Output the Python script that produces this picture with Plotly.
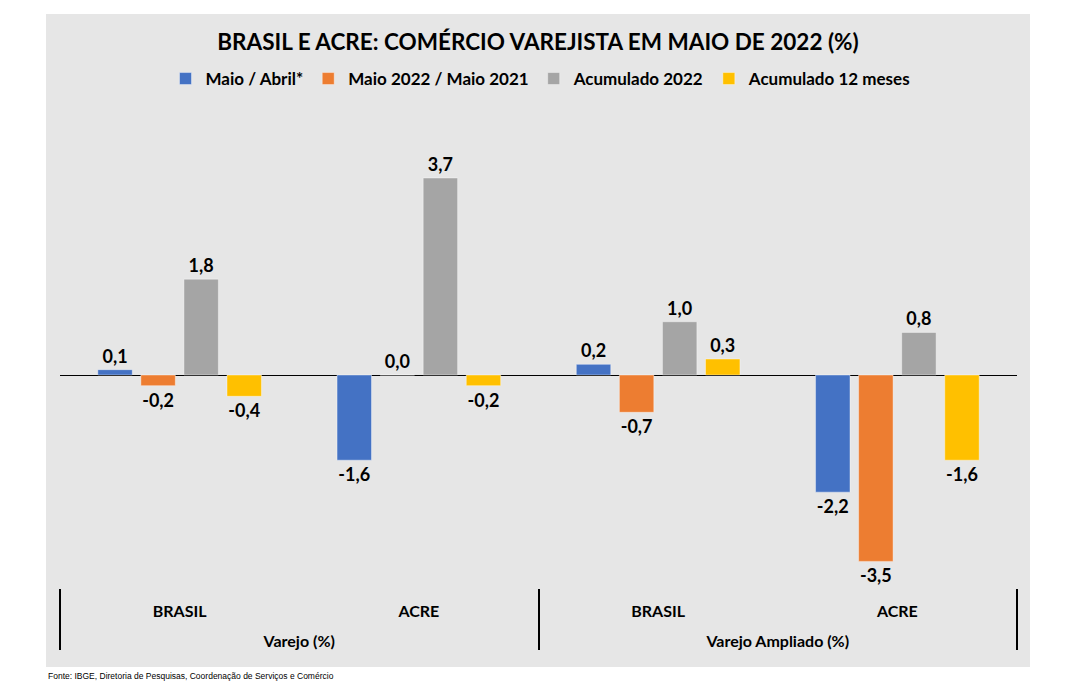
import plotly.graph_objects as go

# dados (%)
grupos = ["Varejo (%)", "Varejo (%)", "Varejo Ampliado (%)", "Varejo Ampliado (%)"]
locais = ["BRASIL", "ACRE", "BRASIL", "ACRE"]

series = ["Maio / Abril*", "Maio 2022 / Maio 2021", "Acumulado 2022", "Acumulado 12 meses"]
maio_abril = [0.1, -1.6, 0.2, -2.2]
maio_maio = [-0.2, 0.0, -0.7, -3.5]
acum_2022 = [1.8, 3.7, 1.0, 0.8]
acum_12m = [-0.4, -0.2, 0.3, -1.6]

cores = ["#4472C4", "#ED7D31", "#A5A5A5", "#FFC000"]
valores = [maio_abril, maio_maio, acum_2022, acum_12m]

fonte = "Lato"

# a página tem 8px de margem no body, então a figura é um pouco menor
W, H = 1072, 692
L, R, T, B = 52, 63, 154, 112
PW, PH = W - L - R, H - T - B

# linha vazia antes do grupo para descer o segundo nível do eixo
grupos_eixo = ["<br>" + g for g in grupos]

fig = go.Figure()

for nome, vals, cor in zip(series, valores, cores):
    fig.add_trace(go.Bar(
        x=[grupos_eixo, locais],
        y=vals,
        name=nome,
        marker=dict(color=cor, line=dict(color="rgba(255,255,255,0.5)", width=0.8)),
        text=[f"{v:.1f}".replace(".", ",") for v in vals],
        textposition="outside",
        textfont=dict(family=fonte, size=18, color="#000000", weight="bold"),
        cliponaxis=False,
    ))

fig.update_layout(
    width=W,
    height=H,
    barmode="group",
    bargap=0.28,
    bargroupgap=0.2,
    paper_bgcolor="#ffffff",
    plot_bgcolor="rgba(0,0,0,0)",
    margin=dict(l=L, r=R, t=T, b=B, autoexpand=False),
    font=dict(family=fonte, color="#000000"),
    title=dict(
        text="<b>BRASIL E ACRE: COMÉRCIO VAREJISTA EM MAIO DE 2022 (%)</b>",
        x=530 / W, xanchor="center",
        y=1 - 34 / H, yanchor="middle",
        font=dict(family=fonte, size=22.5, color="#000000"),
    ),
    legend=dict(
        orientation="h",
        x=(533 - L) / PW, xanchor="center",
        y=1 - 71 / H, yref="container", yanchor="middle",
        font=dict(family=fonte, size=17, color="#000000", weight="bold"),
        bgcolor="rgba(0,0,0,0)",
    ),
)

fig.update_xaxes(
    type="multicategory",
    showgrid=False,
    showline=False,
    ticks="",
    showdividers=True,
    dividercolor="#000000",
    dividerwidth=1.5,
    ticklabelstandoff=12,
    tickfont=dict(family=fonte, size=16, color="#000000", weight="bold"),
)
fig.update_yaxes(
    range=[-4, 4],
    showgrid=False,
    showticklabels=False,
    zeroline=True,
    zerolinecolor="#000000",
    zerolinewidth=1.2,
    showline=False,
    ticks="",
)

# painel cinza de fundo
fig.add_shape(
    type="rect", xref="paper", yref="paper",
    x0=(38 - L) / PW, x1=(1022 - L) / PW,
    y0=-(659 - (H - B)) / PH, y1=1 + (T - 6) / PH,
    fillcolor="#e6e6e6", line=dict(width=0), layer="below",
)

fig.add_annotation(
    text="Fonte: IBGE, Diretoria de Pesquisas, Coordenação de Serviços e Comércio",
    xref="paper", yref="paper",
    x=(38 - L) / PW, xanchor="left",
    y=-(668 - (H - B)) / PH, yanchor="middle",
    showarrow=False,
    font=dict(family="Liberation Sans Narrow, Liberation Sans", size=8.5, color="#000000"),
)

fig.write_html("out.html")
